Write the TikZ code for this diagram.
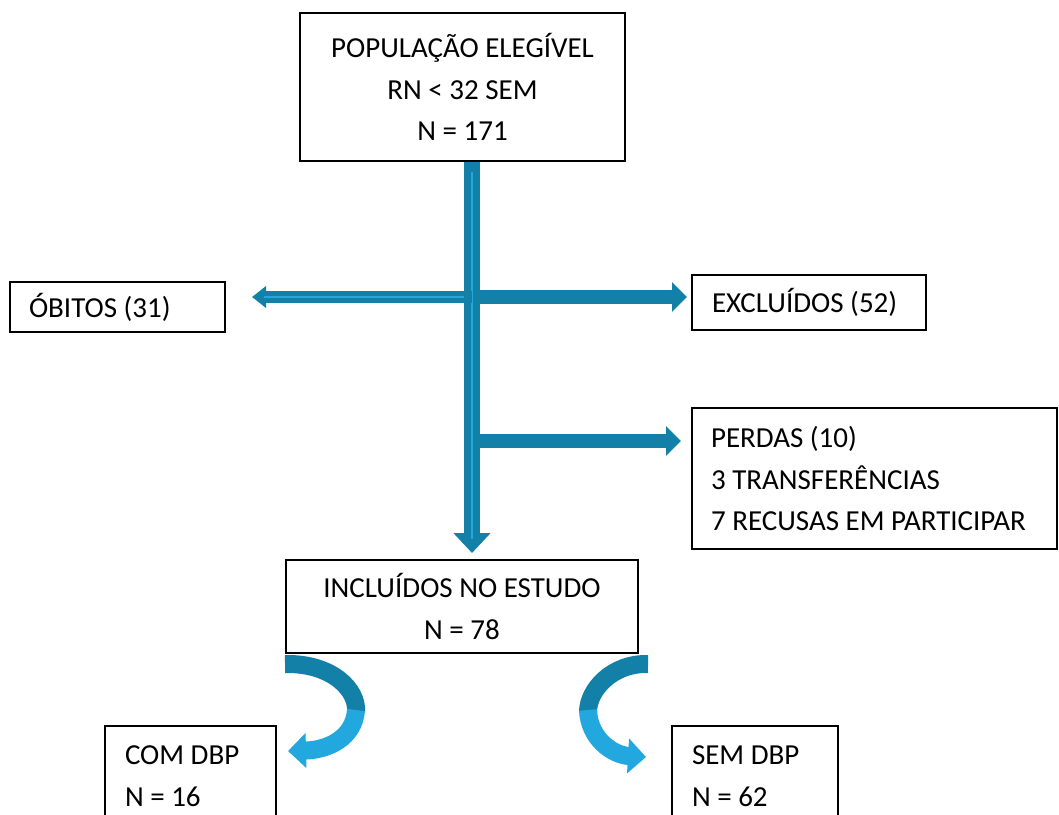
\documentclass[tikz,border=0pt]{standalone}
\usepackage{fontspec}
\setmainfont{Carlito}
\usepackage{xcolor}
\usepackage{tikz}
\usetikzlibrary{arrows.meta,calc}
\definecolor{flowdark}{HTML}{1380A8}
\definecolor{flowlight}{HTML}{22A8DE}
\newcommand{\boxfont}{\fontsize{14.5}{20.8}\selectfont}
\tikzset{
  flowbox/.style={draw=black, line width=1pt, font=\boxfont, inner sep=0pt},
  midbox/.style={flowbox, align=center},
  leftbox/.style={flowbox, align=flush left, inner xsep=9.5pt},
  stem/.style={draw=flowdark, line width=8.3pt,
    -{Triangle[width=18pt,length=10pt]}},
  branch/.style={draw=flowdark, line width=6.8pt,
    -{Triangle[width=14.5pt,length=7.5pt]}},
  backbranch/.style={draw=flowdark, line width=6pt,
    -{Triangle[width=10.5pt,length=7pt]}},
  shine/.style={draw=flowlight, line width=0.9pt},
  curveband/.style={line width=9pt},
}

\begin{document}
\begin{tikzpicture}[x=0.5pt, y=-0.5pt]
  \useasboundingbox (0,0) rectangle (1059,814);
  \clip (0,0) rectangle (1059,814);
  \fill[white] (0,0) rectangle (1059,814);

  % boxes
  \node[midbox, minimum width=162.5pt, minimum height=74pt] (elig) at (462.5,87)
    {POPULAÇÃO ELEGÍVEL\\RN < 32 SEM\\N = 171};
  \node[leftbox, text width=88.5pt, minimum height=25pt] (obitos) at (117.5,307)
    {ÓBITOS (31)};
  \node[leftbox, inner xsep=10pt, text width=97pt, minimum height=27.5pt] (excl) at (809,302.5)
    {EXCLUÍDOS (52)};
  \node[leftbox, text width=163.5pt, minimum height=70.5pt] (perdas) at (874.5,478.5)
    {PERDAS (10)\\3 TRANSFERÊNCIAS\\7 RECUSAS EM PARTICIPAR};
  \node[midbox, minimum width=176pt, minimum height=46.5pt] (incl) at (462,606.5)
    {INCLUÍDOS NO ESTUDO\\N = 78};
  \node[leftbox, inner xsep=10pt, text width=65.5pt, minimum height=50pt] (com) at (190.5,776)
    {COM DBP\\N = 16};
  \node[leftbox, inner xsep=10pt, text width=63pt, minimum height=50pt] (sem) at (755,776)
    {SEM DBP\\N = 62};

  \coordinate (axis) at (472,0);     % main stem
  \coordinate (j1) at (472,297);     % first split
  \coordinate (j2) at (472,441);     % second split

  % main stem
  \draw[stem, shorten >=3pt] (elig.south -| axis) -- (incl.north -| axis);
  \draw[shine] ([yshift=-5pt]elig.south -| axis) -- ([yshift=10pt]incl.north -| axis);

  % side branches
  \draw[backbranch, shorten >=13pt] (j1) -- (obitos.east |- j1);
  \draw[shine] ([xshift=-4pt]j1) -- ([xshift=19pt]obitos.east |- j1);
  \draw[branch, shorten >=2pt] ([xshift=3pt]j1) -- (excl.west |- j1);
  \draw[branch, shorten >=5pt] ([xshift=3pt]j2) -- (perdas.west |- j2);

  % curved arrows to the two groups
  \draw[curveband, flowdark] ([yshift=-5pt]incl.south west)
    .. controls (332,663) and (358,690) .. (356,712);
  \draw[curveband, flowlight, -{Triangle[width=17pt,length=9pt]}] (356,710)
    .. controls (354,738) and (328,750) .. ([xshift=5.5pt,yshift=-13pt]com.north east);
  \draw[curveband, flowdark] ([xshift=4.5pt,yshift=-5pt]incl.south east)
    .. controls (612,663) and (588,690) .. (588,712);
  \draw[curveband, flowlight, -{Triangle[width=17pt,length=9pt]}] (588,710)
    .. controls (589,738) and (612,755) .. ([xshift=-12.5pt,yshift=-16pt]sem.north west);
\end{tikzpicture}
\end{document}
